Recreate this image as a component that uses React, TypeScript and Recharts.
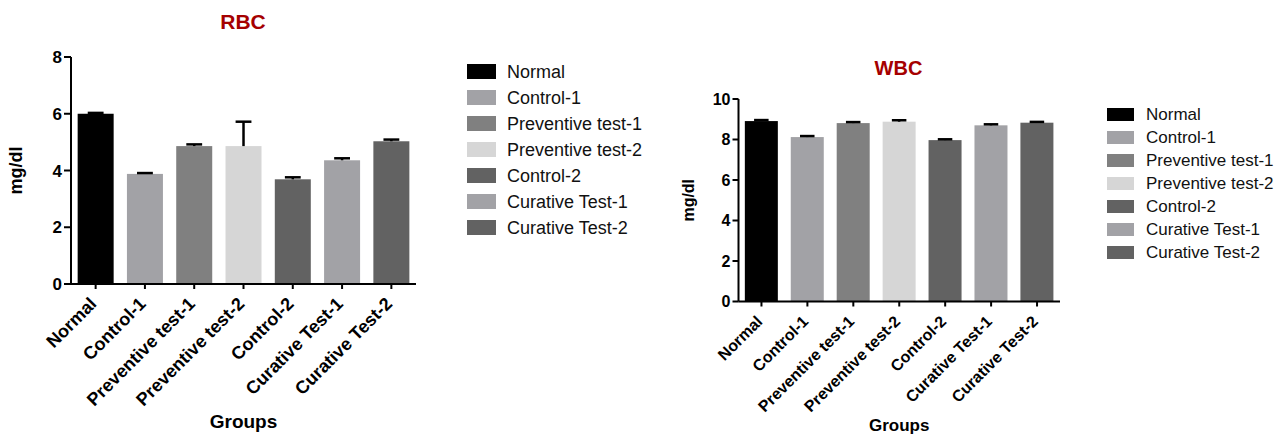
import React from "react";
import { BarChart, Bar, XAxis, YAxis, Cell } from "recharts";

const GROUPS = [
  "Normal",
  "Control-1",
  "Preventive test-1",
  "Preventive test-2",
  "Control-2",
  "Curative Test-1",
  "Curative Test-2",
];

const RBC_MEAN = [6.0, 3.88, 4.86, 4.86, 3.69, 4.36, 5.03];
const RBC_ERR = [0.03, 0.03, 0.06, 0.86, 0.07, 0.07, 0.06];
const RBC_TICKS = [0, 2, 4, 6, 8];

const WBC_MEAN = [8.91, 8.12, 8.81, 8.88, 7.97, 8.7, 8.83];
const WBC_ERR = [0.05, 0.05, 0.05, 0.07, 0.04, 0.05, 0.04];
const WBC_TICKS = [0, 2, 4, 6, 8, 10];

const COLORS = ["#000000", "#a2a2a6", "#808080", "#d6d6d6", "#626262", "#a2a2a6", "#626262"];
const FONT = "'Liberation Sans', Arial, sans-serif";
const TITLE_RED = "#a50000";

const rbcData = GROUPS.map((g, i) => ({ group: g, mean: RBC_MEAN[i], err: RBC_ERR[i] }));
const wbcData = GROUPS.map((g, i) => ({ group: g, mean: WBC_MEAN[i], err: WBC_ERR[i] }));

// bar + upward-only error whisker, scaled from the bar's own pixel height
function BarWithError(props: any) {
  const { x, y, width, height, fill, payload } = props;
  const perUnit = height / payload.mean;
  const top = y - payload.err * perUnit;
  const cx = x + width / 2;
  const cap = width * 0.22;
  return (
    <g>
      <rect x={x} y={y} width={width} height={height} fill={fill} />
      <line x1={cx} y1={y} x2={cx} y2={top} stroke="#000" strokeWidth={2.5} />
      <line x1={cx - cap} y1={top} x2={cx + cap} y2={top} stroke="#000" strokeWidth={2.5} />
    </g>
  );
}

function makeTick(fontSize: number) {
  return function RotTick(props: any) {
    const { x, y, payload } = props;
    const tx = x + 2;
    const ty = y + 14;
    return (
      <text
        x={tx}
        y={ty}
        transform={`rotate(-45, ${tx}, ${ty})`}
        textAnchor="end"
        fontFamily={FONT}
        fontWeight="bold"
        fontSize={fontSize}
        fill="#000"
      >
        {payload.value}
      </text>
    );
  };
}

function GroupChart({
  data,
  ticks,
  width,
  height,
  margin,
  yWidth,
  xHeight,
  tickFont,
  xTickFont,
  yTickSize,
  axisFont,
  yLabelX,
  groupsGap,
  barGap,
}: any) {
  return (
    <BarChart width={width} height={height} data={data} margin={margin} barCategoryGap={barGap}>
      <XAxis
        dataKey="group"
        interval={0}
        height={xHeight}
        axisLine={{ stroke: "#000", strokeWidth: 2 }}
        tickLine={{ stroke: "#000", strokeWidth: 2 }}
        tickSize={5}
        tickMargin={2}
        tick={makeTick(xTickFont)}
        label={(p: any) => {
          const vb = p.viewBox;
          return (
            <text
              x={vb.x + vb.width / 2}
              y={vb.y + vb.height - groupsGap}
              textAnchor="middle"
              fontFamily={FONT}
              fontWeight="bold"
              fontSize={axisFont}
              fill="#000"
            >
              Groups
            </text>
          );
        }}
      />
      <YAxis
        width={yWidth}
        domain={[ticks[0], ticks[ticks.length - 1]]}
        ticks={ticks}
        interval={0}
        axisLine={{ stroke: "#000", strokeWidth: 2 }}
        tickLine={{ stroke: "#000", strokeWidth: 2 }}
        tickSize={yTickSize}
        tickMargin={2}
        tick={{ fill: "#000", fontFamily: FONT, fontWeight: "bold", fontSize: tickFont }}
        label={(p: any) => {
          const vb = p.viewBox;
          const cy = vb.y + vb.height / 2;
          return (
            <text
              x={yLabelX}
              y={cy}
              transform={`rotate(-90, ${yLabelX}, ${cy})`}
              textAnchor="middle"
              fontFamily={FONT}
              fontWeight="bold"
              fontSize={axisFont - 1}
              fill="#000"
            >
              mg/dl
            </text>
          );
        }}
      />
      <Bar dataKey="mean" isAnimationActive={false} shape={<BarWithError />}>
        {data.map((_: any, i: number) => (
          <Cell key={`c-${i}`} fill={COLORS[i % COLORS.length]} />
        ))}
      </Bar>
    </BarChart>
  );
}

function LegendBlock({ x, y, step, sw, sh, textX, fontSize, baseline }: any) {
  return (
    <g>
      {GROUPS.map((g, i) => (
        <g key={g}>
          <rect x={x} y={y + i * step} width={sw} height={sh} fill={COLORS[i]} />
          <text x={textX} y={y + i * step + baseline} fontFamily={FONT} fontSize={fontSize} fill="#111">
            {g}
          </text>
        </g>
      ))}
    </g>
  );
}

export default function App() {
  return (
    <div style={{ position: "absolute", left: 0, top: 0, width: 1285, height: 436, background: "#fff" }}>
      <div style={{ position: "absolute", left: 0, top: 0 }}>
        <GroupChart
          data={rbcData}
          ticks={RBC_TICKS}
          width={430}
          height={436}
          margin={{ top: 57, right: 14, bottom: 0, left: 0 }}
          yWidth={71}
          xHeight={152}
          tickFont={17}
          xTickFont={18}
          yTickSize={7}
          axisFont={19}
          yLabelX={22}
          groupsGap={8}
          barGap="13.5%"
        />
      </div>
      <div style={{ position: "absolute", left: 660, top: 0 }}>
        <GroupChart
          data={wbcData}
          ticks={WBC_TICKS}
          width={402}
          height={436}
          margin={{ top: 99, right: 2, bottom: 0, left: 0 }}
          yWidth={78.5}
          xHeight={134.5}
          tickFont={16}
          xTickFont={16}
          yTickSize={6}
          axisFont={17}
          yLabelX={34}
          groupsGap={5}
          barGap="13.8%"
        />
      </div>
      <svg width={1285} height={436} style={{ position: "absolute", left: 0, top: 0, pointerEvents: "none" }}>
        <text x={243} y={29} textAnchor="middle" fontFamily={FONT} fontWeight="bold" fontSize={21} fill={TITLE_RED}>
          RBC
        </text>
        <text x={898.5} y={75} textAnchor="middle" fontFamily={FONT} fontWeight="bold" fontSize={20} fill={TITLE_RED}>
          WBC
        </text>
        <LegendBlock x={467} y={64} step={26} sw={29} sh={15} textX={507} fontSize={18} baseline={13.5} />
        <LegendBlock x={1107} y={108} step={23} sw={27} sh={13} textX={1146} fontSize={17} baseline={12} />
      </svg>
    </div>
  );
}
